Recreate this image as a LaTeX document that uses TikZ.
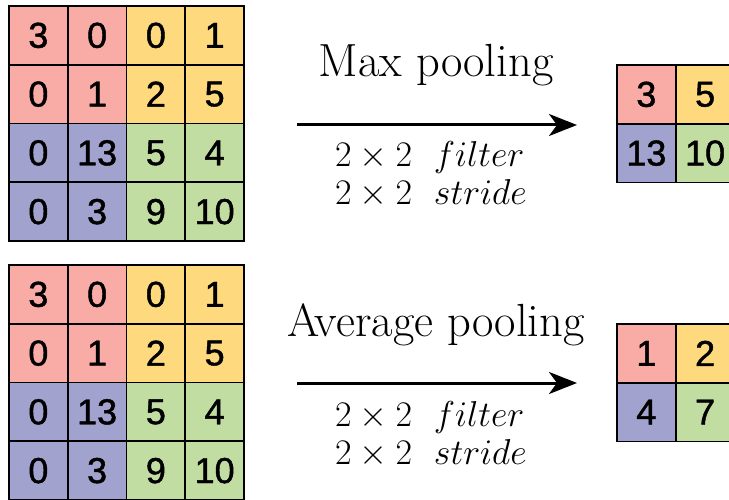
\RequirePackage{fix-cm}
\documentclass[tikz,border=0pt]{standalone}
\usepackage{fontspec}
\newfontfamily\cellfont[FakeBold=1.2]{Liberation Sans}
\usetikzlibrary{arrows.meta}

\definecolor{quadA}{RGB}{249,172,166}
\definecolor{quadB}{RGB}{254,217,126}
\definecolor{quadC}{RGB}{161,162,206}
\definecolor{quadD}{RGB}{193,221,162}

\tikzset{
  cell/.style={draw=black, line width=1.6pt, minimum width=58.75pt,
    minimum height=58.75pt, inner sep=0pt, outer sep=0pt,
    font=\cellfont\fontsize{36}{36}\selectfont},
  title/.style={anchor=base, inner sep=0pt, font=\fontsize{46.5}{52}\selectfont},
  param/.style={anchor=base west, inner sep=0pt, font=\fontsize{36}{42}\selectfont},
  pool/.style={line width=3pt, -{Stealth[length=28pt,width=22pt,inset=8pt]}},
}

\begin{document}
\begin{tikzpicture}[x=1pt,y=-1pt]
  \clip (0,0) rectangle (729,500);
  \useasboundingbox (0,0) rectangle (729,500);

  % input feature maps (4x4), one per pooling type
  \foreach \pre/\ox/\oy in {maxin/9/6, avgin/9/265} {
    \foreach \val [count=\i from 0] in {3,0,0,1,0,1,2,5,0,13,5,4,0,3,9,10} {
      \pgfmathtruncatemacro\r{div(\i,4)}
      \pgfmathtruncatemacro\c{mod(\i,4)}
      \pgfmathtruncatemacro\q{2*(\r>1)+(\c>1)}
      \ifcase\q \def\fc{quadA}\or \def\fc{quadB}\or \def\fc{quadC}\else \def\fc{quadD}\fi
      \node[cell, fill=\fc] (\pre-\r-\c)
        at ({\ox+58.75*(\c+0.5)},{\oy+58.75*(\r+0.5)}) {\val};
    }
  }

  % pooled outputs (2x2)
  \foreach \pre/\oy/\vals in {maxout/65/{3,5,13,10}, avgout/324/{1,2,4,7}} {
    \foreach \val [count=\i from 0] in \vals {
      \pgfmathtruncatemacro\r{div(\i,2)}
      \pgfmathtruncatemacro\c{mod(\i,2)}
      \ifcase\i \def\fc{quadA}\or \def\fc{quadB}\or \def\fc{quadC}\else \def\fc{quadD}\fi
      \node[cell, fill=\fc] (\pre-\r-\c)
        at ({617+58.75*(\c+0.5)},{\oy+58.75*(\r+0.5)}) {\val};
    }
  }

  % max pooling
  \node[title] (maxtitle) at (436,77) {Max pooling};
  \coordinate (maxstart) at (297,125);
  \coordinate (maxend) at (577,125);
  \draw[pool] (maxstart) -- (maxend);
  \node[param] (maxfilter) at (335,167) {$2\times 2\ \ filter$};
  \node[param] (maxstride) at (335,205) {$2\times 2\ \ stride$};

  % average pooling
  \node[title] (avgtitle) at (436,336) {Average pooling};
  \coordinate (avgstart) at (297,383);
  \coordinate (avgend) at (577,383);
  \draw[pool] (avgstart) -- (avgend);
  \node[param] (avgfilter) at (335,426) {$2\times 2\ \ filter$};
  \node[param] (avgstride) at (335,464) {$2\times 2\ \ stride$};
\end{tikzpicture}
\end{document}
